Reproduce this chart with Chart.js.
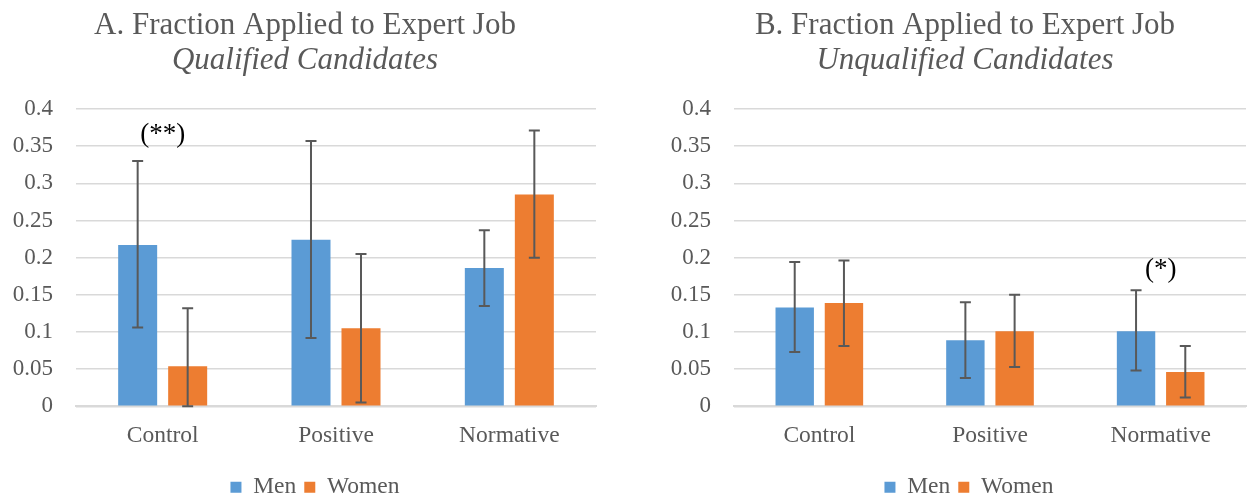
<!DOCTYPE html>
<html>
<head>
<meta charset="utf-8">
<script src="https://cdn.jsdelivr.net/npm/chart.js@4.4.1/dist/chart.umd.min.js"></script>
<style>
  body { margin: 0; background: #fff; }
  #wrap { position: relative; width: 1247px; height: 502px; overflow: hidden; }
  .box { position: absolute; top: 0; height: 502px; }
  #boxA { left: 0; width: 623px; }
  #boxB { left: 658px; width: 615px; }
</style>
</head>
<body>
<div id="wrap">
  <div class="box" id="boxA"><canvas id="chartA"></canvas></div>
  <div class="box" id="boxB"><canvas id="chartB"></canvas></div>
</div>
<script>
// data
const categories = ['Control', 'Positive', 'Normative'];
const yTickLabels = ['0', '0.05', '0.1', '0.15', '0.2', '0.25', '0.3', '0.35', '0.4'];

// A. qualified candidates
const qualMen = [0.217, 0.224, 0.186];
const qualWomen = [0.054, 0.105, 0.285];
const qualMenLow = [0.106, 0.092, 0.135];
const qualMenHigh = [0.330, 0.357, 0.237];
const qualWomenLow = [0.000, 0.005, 0.200];
const qualWomenHigh = [0.132, 0.205, 0.371];
const qualNotes = ['(**)', '', ''];
const qualNoteY = [0.365, 0, 0];

// B. unqualified candidates
const unqualMen = [0.133, 0.089, 0.101];
const unqualWomen = [0.139, 0.101, 0.046];
const unqualMenLow = [0.073, 0.038, 0.048];
const unqualMenHigh = [0.194, 0.140, 0.156];
const unqualWomenLow = [0.081, 0.053, 0.012];
const unqualWomenHigh = [0.196, 0.150, 0.081];
const unqualNotes = ['', '', '(*)'];
const unqualNoteY = [0, 0, 0.183];

const serif = '"Liberation Serif", "Times New Roman", serif';
const grey = '#595959';

function makeChart(id, title, subtitle, men, women, lows, highs, notes, noteY, padL, legendDx) {
    // whiskers and significance marks, drawn through the chart scales
    const extras = {
        id: 'extras',
        afterLayout(chart) {
            // let the tick labels use the space left of the layout padding
            chart.scales.y.left = 0;
            // nudge the legend to where the original sits
            chart.legend.left += legendDx;
            chart.legend.right += legendDx;
            chart.legend.top += 3;
            chart.legend.bottom += 3;
        },
        afterDatasetsDraw(chart) {
            const c = chart.ctx;
            const y = chart.scales.y;
            const x = chart.scales.x;
            c.save();
            c.strokeStyle = grey;
            c.lineWidth = 2;
            chart.data.datasets.forEach((ds, di) => {
                chart.getDatasetMeta(di).data.forEach((bar, i) => {
                    const yl = y.getPixelForValue(lows[di][i]);
                    const yh = y.getPixelForValue(highs[di][i]);
                    c.beginPath();
                    c.moveTo(bar.x, yl); c.lineTo(bar.x, yh);
                    c.moveTo(bar.x - 5.5, yl); c.lineTo(bar.x + 5.5, yl);
                    c.moveTo(bar.x - 5.5, yh); c.lineTo(bar.x + 5.5, yh);
                    c.stroke();
                });
            });
            c.fillStyle = '#000';
            c.font = '27px ' + serif;
            c.textAlign = 'center';
            c.textBaseline = 'middle';
            notes.forEach((t, i) => {
                if (t) c.fillText(t, x.getPixelForValue(i), y.getPixelForValue(noteY[i]));
            });
            c.restore();
        }
    };

    return new Chart(document.getElementById(id), {
        type: 'bar',
        data: {
            labels: categories,
            datasets: [
                { label: 'Men', data: men, backgroundColor: '#5B9BD5' },
                { label: 'Women', data: women, backgroundColor: '#ED7D31' }
            ]
        },
        options: {
            responsive: true,
            maintainAspectRatio: false,
            animation: false,
            categoryPercentage: 0.577,
            barPercentage: 0.78,
            layout: { padding: { left: padL, right: 27, top: 0, bottom: -4 } },
            plugins: {
                title: {
                    display: true,
                    text: title,
                    color: grey,
                    font: { family: serif, size: 31, weight: 'normal', lineHeight: 1 },
                    padding: { top: 10, bottom: 0 }
                },
                subtitle: {
                    display: true,
                    text: subtitle,
                    color: grey,
                    font: { family: serif, size: 31, style: 'italic', weight: 'normal', lineHeight: 1 },
                    padding: { top: 4, bottom: 33 }
                },
                legend: {
                    position: 'bottom',
                    labels: {
                        color: grey,
                        font: { family: serif, size: 23.5 },
                        boxWidth: 11,
                        boxHeight: 11,
                        padding: 8
                    }
                },
                tooltip: { enabled: false }
            },
            scales: {
                x: {
                    grid: { display: false, drawTicks: false },
                    border: { display: true, color: '#d9d9d9', width: 2 },
                    ticks: { color: grey, font: { family: serif, size: 23.5 }, padding: 15 }
                },
                y: {
                    min: 0,
                    max: 0.4,
                    afterFit(scale) { scale.width = 76 - padL; },
                    grid: { color: '#d9d9d9', lineWidth: 1.5, drawTicks: false },
                    border: { display: false },
                    ticks: {
                        stepSize: 0.05,
                        color: grey,
                        font: { family: serif, size: 23 },
                        padding: 23,
                        callback: (v, i) => yTickLabels[i]
                    }
                }
            }
        },
        plugins: [extras]
    });
}

makeChart('chartA', 'A. Fraction Applied to Expert Job', 'Qualified Candidates',
    qualMen, qualWomen, [qualMenLow, qualWomenLow], [qualMenHigh, qualWomenHigh],
    qualNotes, qualNoteY, 14, 10);

makeChart('chartB', 'B. Fraction Applied to Expert Job', 'Unqualified Candidates',
    unqualMen, unqualWomen, [unqualMenLow, unqualWomenLow], [unqualMenHigh, unqualWomenHigh],
    unqualNotes, unqualNoteY, 26, 4);
</script>
</body>
</html>
